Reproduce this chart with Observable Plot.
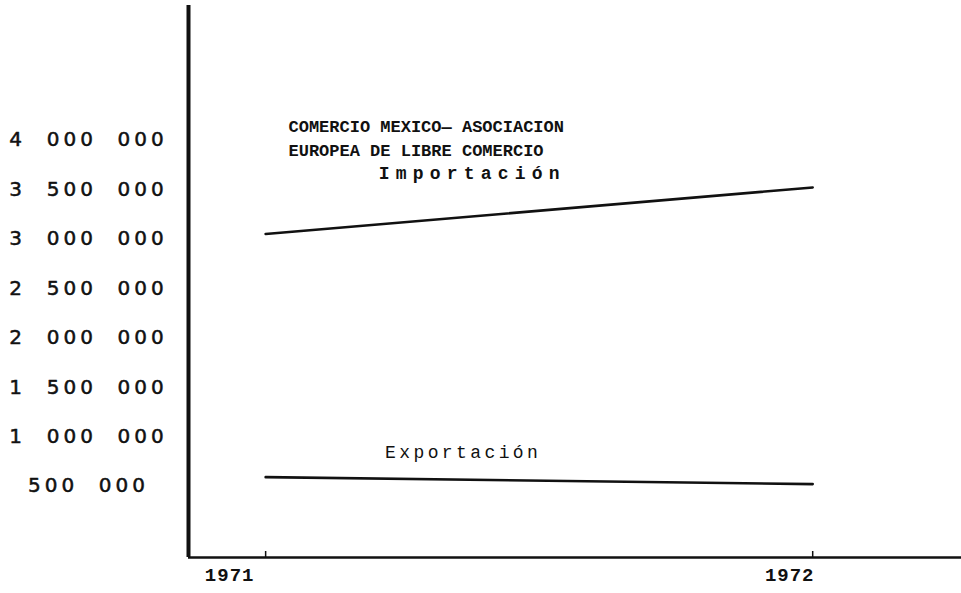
<!DOCTYPE html>
<html>
<head>
<meta charset="utf-8">
<script src="https://cdn.jsdelivr.net/npm/d3@7"></script>
<script src="https://cdn.jsdelivr.net/npm/@observablehq/plot@0.6"></script>
<style>
  html, body { margin: 0; padding: 0; background: #fff; }
  #chart svg { display: block; }
  [aria-label="ytick-labels"] { letter-spacing: 4px; }
  [aria-label="imp-label"] { letter-spacing: 6.2px; }
  [aria-label="exp-label"] { letter-spacing: 3.4px; }
  [aria-label="year-labels"] { letter-spacing: 1px; }
</style>
</head>
<body>
<div id="chart"></div>
<script>
// ---- data ----
const years = [1971, 1972];
const importacion = [3050000, 3520000];
const exportacion = [590000, 520000];
const yTicks = [500000, 1000000, 1500000, 2000000, 2500000, 3000000, 3500000, 4000000];
const seriesNames = ["Importación", "Exportación"];
const titleLines = ["COMERCIO MEXICO— ASOCIACION", "EUROPEA DE LIBRE COMERCIO"];

// ---- table built from the arrays ----
const rows = years.flatMap((yr, i) => [
  {series: seriesNames[0], year: yr, value: importacion[i]},
  {series: seriesNames[1], year: yr, value: exportacion[i]}
]);

const xDomain = [1970.859, 1972.272];
const yDomain = [-222600, 5361000];
const fmt = v => d3.format(",")(v).replace(/,/g, "  ");
const yearText = {fontSize: 19, fontFamily: "Liberation Mono", fontWeight: "bold", fill: "#111",
  frameAnchor: "bottom", dy: 23, ariaLabel: () => "year-labels"};

const chart = Plot.plot({
  width: 961,
  height: 593,
  marginLeft: 188,
  marginRight: 0,
  marginTop: 5,
  marginBottom: 36,
  style: {background: "#fff", color: "#111"},
  x: {domain: xDomain, axis: null},
  y: {domain: yDomain, axis: null},
  marks: [
    // axes (hand drawn frame)
    Plot.ruleX([xDomain[0]], {stroke: "#111", strokeWidth: 4}),
    Plot.ruleY([yDomain[0]], {stroke: "#111", strokeWidth: 2.5}),
    Plot.tickX(years, {x: d => d, stroke: "#111", strokeWidth: 1.5, insetTop: 546}),
    // y tick labels
    Plot.text(yTicks, {
      y: d => d, text: fmt, frameAnchor: "left", textAnchor: "middle",
      dx: -100, fontSize: 20, fontFamily: "DejaVu Sans", fill: "#111",
      stroke: "#111", strokeWidth: 0.5,
      ariaLabel: () => "ytick-labels"
    }),
    // x tick labels (typed slightly left of their ticks)
    Plot.text(years.slice(0, 1), {x: d => d, text: d => String(d), dx: -36, ...yearText}),
    Plot.text(years.slice(1), {x: d => d, text: d => String(d), dx: -23, ...yearText}),
    // lines
    Plot.line(rows, {x: "year", y: "value", z: "series", stroke: "#111", strokeWidth: 2.6}),
    // series labels
    Plot.text([seriesNames[0]], {
      x: () => d3.mean(years), y: () => d3.mean(importacion), text: d => d,
      dx: -67, dy: -38, fontSize: 18, fontFamily: "Liberation Mono", fontWeight: "bold", fill: "#111",
      ariaLabel: () => "imp-label"
    }),
    Plot.text([seriesNames[1]], {
      x: () => d3.mean(years), y: () => d3.mean(exportacion), text: d => d,
      dx: -76, dy: -28, fontSize: 18, fontFamily: "Liberation Mono", fill: "#111",
      ariaLabel: () => "exp-label"
    }),
    // title inside the frame
    Plot.text([titleLines.join("\n")], {
      frameAnchor: "top-left", textAnchor: "start", lineAnchor: "top",
      dx: 100, dy: 110, lineHeight: 1.4, text: d => d,
      fontSize: 17, fontFamily: "Liberation Mono", fontWeight: "bold", fill: "#111"
    })
  ]
});

document.getElementById("chart").append(chart);
</script>
</body>
</html>
